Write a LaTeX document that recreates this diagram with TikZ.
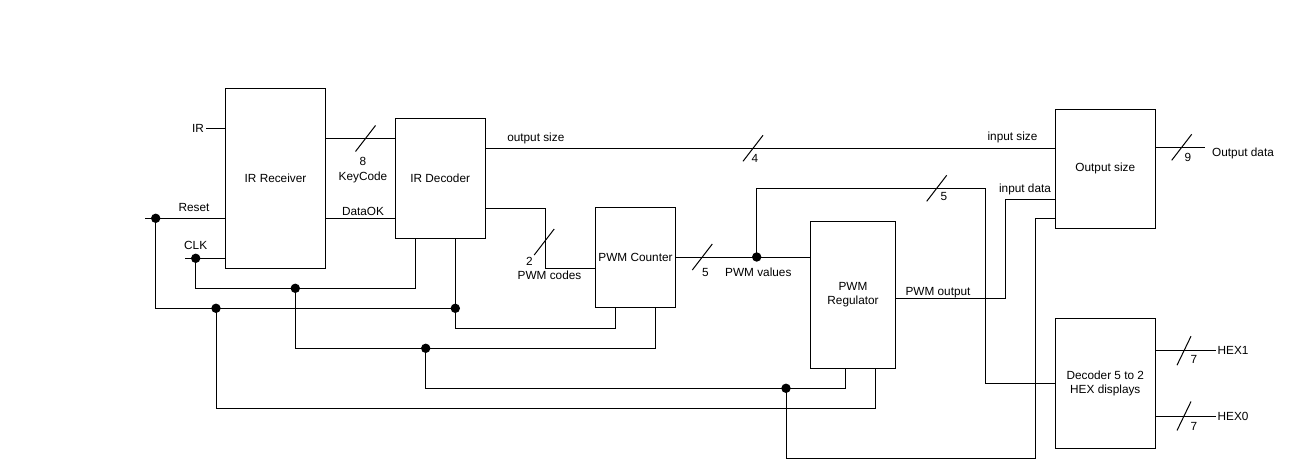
\documentclass[tikz,border=0pt]{standalone}
\usepackage{fontspec}
\setmainfont{Liberation Sans}
\usetikzlibrary{calc}
\tikzset{
  block/.style={draw, line width=1pt, inner sep=0pt, align=center},
  wire/.style={line width=1pt},
  lbl/.style={inner sep=0pt, text height=8.5pt, text depth=0pt},
}
\begin{document}
\begin{tikzpicture}[x=1pt, y=-1pt, font=\fontsize{11.8}{14}\selectfont]
 						\useasboundingbox[fill=white] (0,0) rectangle (1292,463);
 						% blocks
 						\node[block, minimum width=99.6pt, minimum height=180pt] (rx) at (275.5,178.3) {IR Receiver};
 						\node[block, minimum width=89.7pt, minimum height=120pt] (dec) at (440.2,178.3) {IR Decoder};
 						\node[block, minimum width=79.6pt, minimum height=100pt] (cnt) at (635.5,257.3) {PWM Counter};
 						\node[block, minimum width=85pt, minimum height=146.6pt] (reg) at (853,295) {PWM\\Regulator};
 						\node[block, minimum width=100pt, minimum height=119pt] (osz) at (1105.3,168.8) {Output size};
 						\node[block, minimum width=100pt, minimum height=130pt] (hexd) at (1105.3,383.3) {Decoder 5 to 2\\HEX displays};
 						% pins and junctions
 						\coordinate (irin) at (206,128.3);
 						\coordinate (rstin) at (145,218.3);
 						\coordinate (rstj) at (155.7,218.3);
 						\coordinate (clkin) at (185,258.3);
 						\coordinate (clkj) at (195.7,258.3);
 						\coordinate (j1) at (295.3,288.3);
 						\coordinate (j2) at (216,308.3);
 						\coordinate (j3) at (455.3,308.3);
 						\coordinate (j4) at (425.7,348.3);
 						\coordinate (j5) at (786,388.3);
 						\coordinate (pv) at (756.7,257);
 						\coordinate (odat) at (1205,147.3);
 						\coordinate (hx1) at (1215.5,350.7);
 						\coordinate (hx0) at (1215.5,416);
 						% wires
						\draw[wire] (irin) -- (irin -| rx.west);
						\draw[wire] (rx.east |- 0,138.3) -- (dec.west |- 0,138.3);
						\draw[wire] (rx.east |- 0,218.3) -- (dec.west |- 0,218.3);
						\draw[wire] (rstin) -- (rstin -| rx.west);
						\draw[wire] (clkin) -- (clkin -| rx.west);
						\draw[wire] (clkj) |- (j1) -| (415.3,0 |- dec.south);
						\draw[wire] (rstj) |- (j3) -- (j3 |- dec.south);
						\draw[wire] (j3) -- (j3 |- 0,328.3) -| (615.7,0 |- cnt.south);
						\draw[wire] (j1) -- (j1 |- 0,348.3) -| (655.7,0 |- cnt.south);
						\draw[wire] (j4) -- (j4 |- 0,388.3) -| (845.2,0 |- reg.south);
						\draw[wire] (j2) -- (j2 |- 0,408.3) -| (875.5,0 |- reg.south);
						\draw[wire] (j5) -- (j5 |- 0,458.3) -| (1035.7,218.3) -- (osz.west |- 0,218.3);
						\draw[wire] (dec.east |- 0,148.3) -- (osz.west |- 0,148.3);
						\draw[wire] (dec.east |- 0,208.3) -| (545,268.3) -- (cnt.west |- 0,268.3);
						\draw[wire] (cnt.east |- 0,257) -- (reg.west |- 0,257);
						\draw[wire] (pv) |- (985.4,188.3) |- (hexd.west |- 0,383.3);
						\draw[wire] (reg.east |- 0,298.3) -| (1005.7,199) -- (osz.west |- 0,199);
						\draw[wire] (osz.east |- 0,147.3) -- (odat);
						\draw[wire] (hexd.east |- 0,350.7) -- (hx1);
						\draw[wire] (hexd.east |- 0,416) -- (hx0);
						% bus slashes
						\foreach \p in {(365.5,138.5), (753,148.3), (544.2,242), (702.3,257), (936.7,188.3), (1181.7,147.3)}
						  \draw[wire] \p ++(-10,13) -- ++(20,-26);
						\foreach \p in {(1184,350.7), (1184,416)}
						  \draw[wire] \p ++(-7,14.5) -- ++(14,-29);
						% dots
						\foreach \j in {rstj, clkj, j1, j2, j3, j4, j5, pv}
						  \fill (\j) circle (4.7pt);
						% labels
						\node[lbl, anchor=east] (lir) at ($(irin)+(-2,0)$) {IR};
						\node[lbl] (lrst) at (194,207.7) {Reset};
						\node[lbl] (lclk) at (195.7,245.7) {CLK};
						\node[lbl] (lkw) at (363,161) {8};
						\node[lbl] (lkey) at (363,176) {KeyCode};
						\node[lbl] (lok) at (363,211.5) {DataOK};
						\node[lbl] (losz) at (535.8,137.7) {output size};
						\node[lbl] (lisz) at (1012.5,136) {input size};
						\node[lbl] (lsw) at (755,158.3) {4};
						\node[lbl] (lcw) at (529.3,261) {2};
						\node[lbl] (lcod) at (549.5,275) {PWM codes};
						\node[lbl] (lvw) at (705.3,272.3) {5};
						\node[lbl] (lval) at (758.3,272) {PWM values};
						\node[lbl] (lvw2) at (944,196.7) {5};
						\node[lbl] (lpo) at (938,291) {PWM output};
						\node[lbl] (lid) at (1025,188) {input data};
						\node[lbl] (low) at (1188,157) {9};
						\node[lbl, anchor=west] (lod) at (1212,152.3) {Output data};
						\node[lbl] (lh1w) at (1194,359.3) {7};
						\node[lbl, anchor=west] (lh1) at ($(hx1)+(2,0)$) {HEX1};
						\node[lbl] (lh0w) at (1194,426) {7};
						\node[lbl, anchor=west] (lh0) at ($(hx0)+(2,0)$) {HEX0};
					\end{tikzpicture}
\end{document}
